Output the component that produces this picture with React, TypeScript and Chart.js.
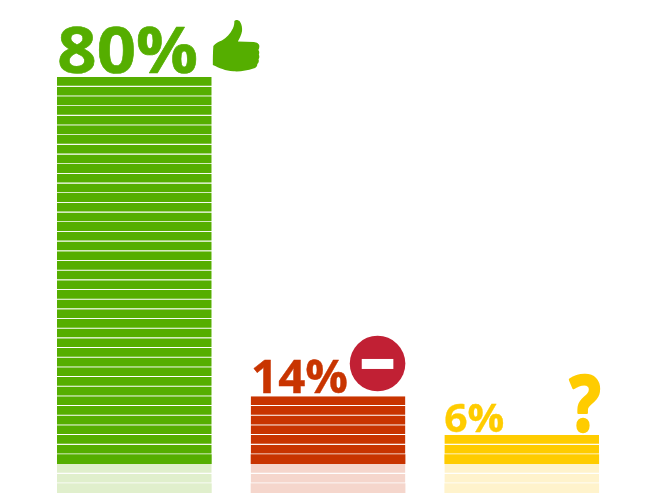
import React, { useEffect, useRef } from "react";
import { Chart, registerables } from "chart.js";

Chart.register(...registerables);

const categories = ["Approve", "Reject", "Unsure"];
const percents = [80, 14, 6];
const percentLabels = ["80%", "14%", "6%"];
const solidColors = ["#55AE00", "#C83400", "#FFCC00"];
const fadedColors = ["#E0EFCC", "#F5D6CC", "#FFF3CC"];
const stripeStep = 2;
const reflectionStripes = 3;

const stripeCount = Math.max(...percents) / stripeStep;
const stripeBorder = { top: 0, left: 0, right: 0, bottom: 0.85 };
const datasets: any[] = [];
for (let i = 0; i < stripeCount; i++) {
  datasets.push({
    label: "stripe " + (i + 1),
    data: percents.map((p) => (i * stripeStep < p ? stripeStep : null)),
    backgroundColor: solidColors,
    borderColor: "#ffffff",
    borderWidth: i === 0 ? 0 : stripeBorder,
    borderSkipped: false,
    stack: "s",
  });
}
for (let i = 0; i < reflectionStripes; i++) {
  datasets.push({
    label: "reflection " + (i + 1),
    data: percents.map(() => -stripeStep),
    backgroundColor: fadedColors,
    borderColor: "#ffffff",
    borderWidth: i === reflectionStripes - 1 ? 0 : stripeBorder,
    borderSkipped: false,
    stack: "s",
  });
}

const thumb =
  "M7.5 50 C7.5 44 7.5 38 8 31 C10 28.5 13 26.5 16.5 25.5 C21 23 25 18.5 27.5 13.5 C29 10 29 8 29 6 C30.5 4.5 33 5 34.5 6.5 C36.5 9.5 37 13 36.7 16 C36 20 34 23.5 32.5 26.5 L48.5 27 C51.5 27.2 54 29 54 31 C54 33 53.5 34 53 35 C54 36 54.2 38 53.5 39.5 C54.2 41 54.2 43 53.2 44.3 C53.8 46 53.5 48 52 49 C52 51.5 50.5 53 48 53.5 C42 55.5 35 56.8 28 56.3 C20 55.8 14 53 7.5 50 Z";

const overlayPlugin = {
  id: "overlay",
  afterDatasetsDraw(chart: any) {
    const { ctx, scales } = chart;
    const xs = percents.map((_, i) => scales.x.getPixelForValue(i));
    const tops = percents.map((p) => scales.y.getPixelForValue(p));
    const label = (
      text: string,
      color: string,
      size: number,
      x: number,
      y: number,
      sx: number,
      stroke: number
    ) => {
      ctx.save();
      ctx.translate(x, y);
      ctx.scale(sx, 1);
      ctx.font = `bold ${size}px "Open Sans"`;
      ctx.fillStyle = color;
      ctx.strokeStyle = color;
      ctx.lineWidth = stroke;
      ctx.lineJoin = "round";
      ctx.textAlign = "left";
      ctx.textBaseline = "alphabetic";
      ctx.fillText(text, 0, 0);
      ctx.strokeText(text, 0, 0);
      ctx.restore();
    };
    label(percentLabels[0], solidColors[0], 64, xs[0] - 77, tops[0] - 4, 1.075, 0.6);
    label(percentLabels[1], solidColors[1], 46, xs[1] - 77, tops[1] - 3.2, 1.03, 0.4);
    label(percentLabels[2], solidColors[2], 38.5, xs[2] - 77.5, tops[2] - 3, 1.06, 0.3);

    // thumbs up
    ctx.save();
    ctx.translate(xs[0] + 71, tops[0] - 62);
    ctx.fillStyle = solidColors[0];
    ctx.fill(new Path2D(thumb));
    ctx.restore();

    // no-entry sign
    ctx.save();
    ctx.fillStyle = "#C12034";
    ctx.beginPath();
    ctx.arc(xs[1] + 49.5, tops[1] - 32.7, 27.8, 0, Math.PI * 2);
    ctx.fill();
    ctx.fillStyle = "#ffffff";
    ctx.fillRect(xs[1] + 33.7, tops[1] - 37.3, 31.6, 10);
    ctx.restore();

    // question mark
    label("?", solidColors[2], 77, xs[2] + 48, tops[2] - 4, 0.84, 2.6);
  },
};

export default function App() {
  const ref = useRef<HTMLCanvasElement>(null);
  useEffect(() => {
    const chart = new Chart(ref.current!, {
      type: "bar",
      data: { labels: categories, datasets },
      options: {
        animation: false,
        responsive: false,
        events: [],
        layout: { padding: { left: 37.5, right: 31.4, top: 4.44, bottom: 7 } },
        barPercentage: 1,
        categoryPercentage: 0.7987,
        plugins: { legend: { display: false }, tooltip: { enabled: false }, title: { display: false } },
        scales: {
          x: { display: false, stacked: true, grid: { display: false } },
          y: { display: false, stacked: true, min: -6, max: 95, grid: { display: false } },
        },
      } as any,
      plugins: [overlayPlugin],
    });
    return () => chart.destroy();
  }, []);
  return (
    <div style={{ position: "fixed", left: 0, top: 0, width: 650, height: 500, background: "#fff" }}>
      <canvas ref={ref} width={650} height={500} style={{ display: "block" }} />
    </div>
  );
}
